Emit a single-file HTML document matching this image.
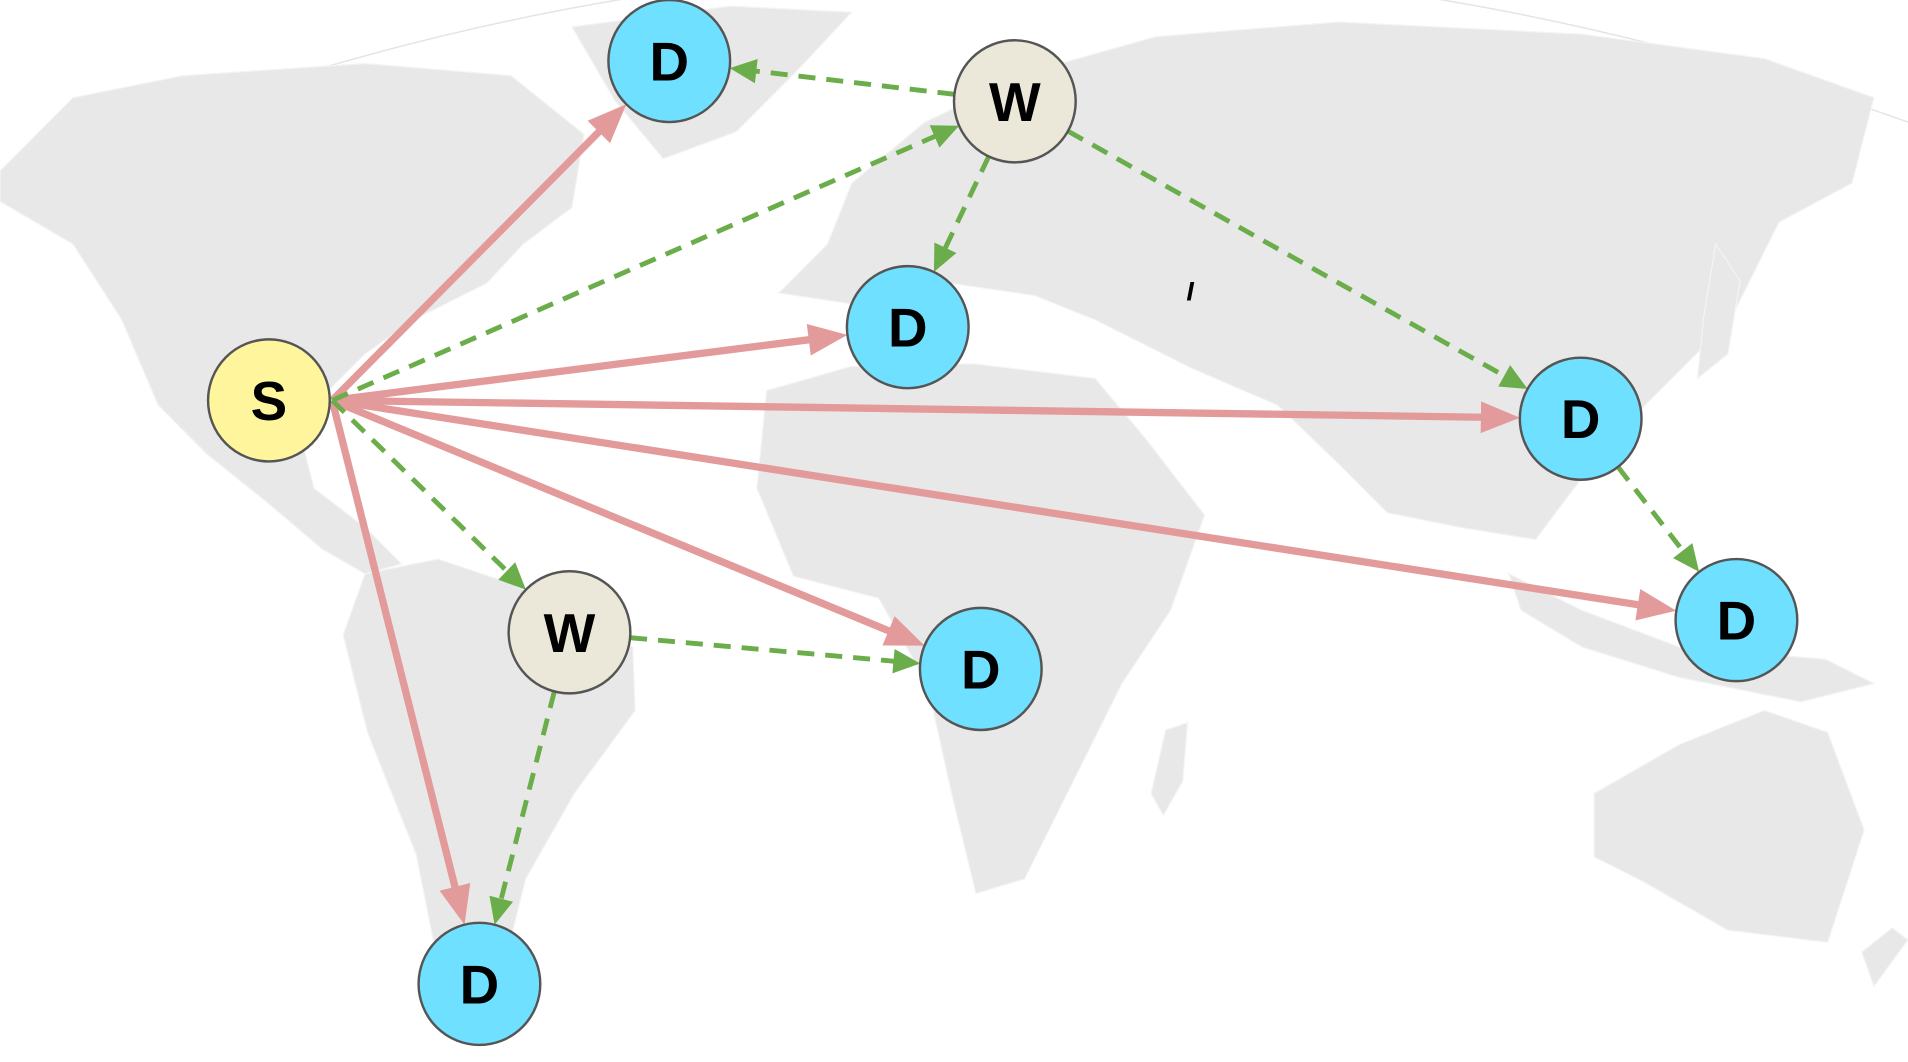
<!DOCTYPE html>
<html><head><meta charset="utf-8"><style>
html,body{margin:0;padding:0;background:#fff;}
svg{display:block;}
</style></head><body>
<svg id="chart" width="1908" height="1062" viewBox="0 0 1568 870" preserveAspectRatio="none" xmlns="http://www.w3.org/2000/svg">
<g id="map" fill="#e8e8e8" stroke="#f4f4f4" stroke-width="1">
<path d="M0,150 Q780,-180 1568,100" fill="none" stroke="#e4e4e4" stroke-width="1.2"/>
<polygon points="0,140 60,80 150,62 300,52 420,62 480,110 470,170 430,200 400,232 340,262 300,290 268,322 248,360 258,400 300,432 330,462 300,470 265,450 220,412 170,372 130,332 100,262 60,200 0,165"/>
<polygon points="470,22 600,5 700,10 655,58 605,108 545,130 505,82"/>
<polygon points="300,470 360,458 420,478 520,530 522,582 472,650 432,720 412,800 385,842 362,800 342,700 302,600 282,520"/>
<polygon points="640,240 680,200 700,150 760,100 850,58 950,30 1100,18 1300,28 1450,48 1540,80 1522,150 1462,182 1422,262 1382,302 1332,352 1292,402 1262,442 1200,432 1140,420 1100,380 1050,332 980,302 900,262 850,242 780,232 720,252"/>
<polygon points="630,320 700,300 800,298 900,310 942,360 990,422 962,500 922,560 882,640 842,720 802,732 782,650 762,560 722,490 652,472 622,400"/>
<polygon points="1310,650 1380,610 1450,582 1502,600 1532,680 1502,772 1420,762 1350,722 1310,702"/>
<polygon points="958,598 976,592 972,640 956,668 946,650"/>
<polygon points="1240,470 1300,500 1380,530 1500,540 1540,560 1480,575 1380,555 1300,530 1250,500"/>
<polygon points="1410,200 1430,230 1420,290 1395,310 1400,260"/>
<polygon points="1530,780 1555,760 1568,770 1540,808"/>
</g>
<g id="edges"></g>
<g id="nodes"></g>
<text x="978" y="246" font-family="Liberation Sans, sans-serif" font-style="italic" font-weight="bold" font-size="22" text-anchor="middle">I</text>
</svg>
<script>
const nodeIds = ["S","D1","W1","D2","D3","D4","W2","D5","D6"];
const nodeLabels = ["S","D","W","D","D","D","W","D","D"];
const nodeX = [221,550,834,746,1299,1427,468,806,394];
const nodeY = [328,50,83,268,343,508,518,548,806];
const redFrom = ["S","S","S","S","S","S"];
const redTo = ["D1","D2","D3","D4","D5","D6"];
const greenFrom = ["S","S","W1","W1","W1","D3","W2","W2"];
const greenTo = ["W1","W2","D1","D2","D3","D4","D5","D6"];
const R = 50;
const fills = {S:"#fff59d", D:"#6fe0ff", W:"#ebe8da"};
const NS = "http://www.w3.org/2000/svg";
const idx = id => nodeIds.indexOf(id);
const eg = document.getElementById("edges");
function drawEdge(a, b, color, w, dash, hl, hw, i, kind) {
  const ia = idx(a), ib = idx(b);
  let x1 = nodeX[ia], y1 = nodeY[ia];
  const x2c = nodeX[ib], y2c = nodeY[ib];
  if (a === "S") { x1 = x1 + R + 2; }
  let dx = x2c - x1, dy = y2c - y1, L = Math.hypot(dx, dy);
  const ux = dx / L, uy = dy / L;
  if (a !== "S") { x1 += ux * R; y1 += uy * R; }
  const tx = x2c - ux * R, ty = y2c - uy * R;
  const bx = tx - ux * hl, by = ty - uy * hl;
  const line = document.createElementNS(NS, "line");
  
  
  line.setAttribute("x1", x1); line.setAttribute("y1", y1);
  line.setAttribute("x2", bx + ux * 2); line.setAttribute("y2", by + uy * 2);
  line.setAttribute("stroke", color); line.setAttribute("stroke-width", w);
  if (dash) line.setAttribute("stroke-dasharray", dash);
  eg.appendChild(line);
  const px = -uy, py = ux;
  const head = document.createElementNS(NS, "polygon");
  
  
  head.setAttribute("points", `${tx},${ty} ${bx + px * hw},${by + py * hw} ${bx - px * hw},${by - py * hw}`);
  head.setAttribute("fill", color);
  eg.appendChild(head);
}
for (let i = 0; i < redFrom.length; i++) drawEdge(redFrom[i], redTo[i], "#e39a9a", 6, null, 32, 13, i, "direct");
for (let i = 0; i < greenFrom.length; i++) drawEdge(greenFrom[i], greenTo[i], "#6aad4a", 4, "14 9", 22, 10, i, "warehouse");
const ng = document.getElementById("nodes");
for (let i = 0; i < nodeIds.length; i++) {
  const g = document.createElementNS(NS, "g");
  
  
  const c = document.createElementNS(NS, "circle");
  c.setAttribute("cx", nodeX[i]); c.setAttribute("cy", nodeY[i]); c.setAttribute("r", R);
  c.setAttribute("fill", fills[nodeLabels[i]]); c.setAttribute("stroke", "#555"); c.setAttribute("stroke-width", 2);
  g.appendChild(c);
  const t = document.createElementNS(NS, "text");
  
  
  t.setAttribute("x", nodeX[i]); t.setAttribute("y", nodeY[i] + 16);
  t.setAttribute("text-anchor", "middle");
  t.setAttribute("font-family", "Liberation Sans, Arial, sans-serif");
  t.setAttribute("font-weight", "bold"); t.setAttribute("font-size", "45");
  t.textContent = nodeLabels[i];
  g.appendChild(t);
  ng.appendChild(g);
}
</script>
</body></html>
